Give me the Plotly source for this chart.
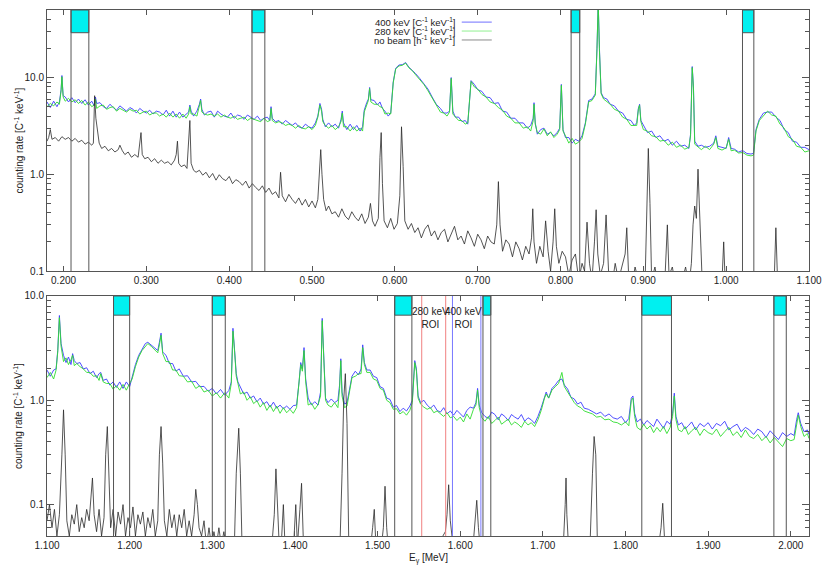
# plot.py
# gamma spectra, 280/400 keV beam vs. no beam, two energy panels

import numpy as np
import plotly.graph_objects as go

# ---- upper panel (0.18 - 1.10 MeV), beam spectra, energies in keV
top_energy = [
    180, 184, 188, 192, 195, 197, 198, 199.5, 202, 206,
    210, 214, 218, 222, 226, 230, 234, 237, 238.5, 240,
    244, 248, 252, 256, 260, 264, 268, 272, 276, 280,
    284, 288, 292, 296, 300, 304, 308, 312, 316, 320,
    324, 328, 332, 336, 340, 344, 348, 351, 352.5, 354,
    357, 361, 364, 365.5, 367, 370, 374, 378, 382, 386,
    390, 394, 398, 402, 406, 410, 414, 418, 422, 426,
    430, 434, 438, 442, 446, 449, 450.5, 452, 456, 460,
    464, 468, 472, 476, 480, 484, 488, 492, 496, 500,
    504, 507, 509.5, 511.5, 513, 516, 520, 524, 528, 532,
    535, 536.5, 538, 542, 546, 550, 554, 558, 561, 563,
    566, 568, 569.5, 571, 575, 579, 582, 585, 588, 592,
    595, 598, 601, 605, 609, 613, 617, 621, 625, 630,
    635, 640, 645, 650, 655, 659, 663, 666, 668, 670,
    673, 677, 681, 685, 688, 690, 692, 696, 700, 705,
    710, 715, 720, 725, 730, 735, 740, 745, 750, 755,
    760, 764, 767, 768, 769.5, 772, 776, 780, 784, 788,
    792, 796, 799, 801, 803, 806, 810, 814, 818, 822,
    826, 830, 834, 838, 842, 844, 845.5, 847, 849, 852,
    856, 860, 865, 870, 875, 880, 885, 889, 892, 894,
    895.5, 897, 900, 905, 910, 915, 920, 925, 930, 935,
    940, 945, 950, 955, 957, 959, 960.5, 962, 966, 970,
    975, 980, 985, 987.5, 990, 995, 1000, 1003, 1006, 1010,
    1015, 1020, 1025, 1030, 1033, 1036, 1040, 1045, 1050, 1055,
    1060, 1065, 1070, 1075, 1080, 1085, 1090, 1095, 1100,
]
top_400 = [
    5.6, 4.9, 5.7, 5.0, 5.6, 7.5, 10.5, 6.5, 6.3, 5.6,
    6.2, 5.5, 6.0, 5.4, 5.9, 5.2, 5.7, 5.1, 6.3, 5.4,
    5.5, 5.0, 4.8, 5.3, 4.9, 4.6, 5.1, 4.8, 4.5, 4.9,
    4.7, 4.3, 4.8, 4.5, 4.3, 4.6, 4.2, 4.5, 4.4, 4.1,
    4.6, 4.0, 4.5, 3.9, 4.4, 3.9, 4.2, 4.4, 5.2, 4.5,
    4.0, 4.5, 5.3, 6.0, 4.7, 4.1, 4.4, 4.5, 3.9, 4.5,
    4.2, 4.0, 3.9, 4.3, 3.8, 4.1, 4.0, 3.7, 4.1, 3.9,
    3.7, 4.0, 3.6, 3.8, 3.9, 3.6, 5.0, 3.8, 3.5, 3.6,
    3.3, 3.6, 3.4, 3.2, 3.4, 3.1, 3.0, 3.3, 3.1, 3.0,
    3.4, 4.0, 5.4, 4.7, 3.7, 3.1, 3.4, 3.1, 3.3, 3.0,
    3.7, 4.5, 3.4, 2.9, 3.3, 2.9, 3.2, 2.8, 3.1, 4.6,
    5.5, 6.0, 7.9, 5.9, 5.8, 5.2, 5.6, 4.8, 4.5, 4.0,
    4.3, 9.0, 12.5, 13.5, 13.6, 14.3, 12.8, 12.0, 11.0, 9.8,
    8.7, 7.6, 6.3, 5.3, 4.8, 4.3, 4.3, 4.5, 10.0, 4.5,
    3.9, 3.9, 3.5, 3.6, 3.3, 5.5, 9.3, 8.5, 7.5, 7.2,
    6.3, 6.2, 5.4, 5.5, 4.5, 4.4, 3.8, 3.8, 3.4, 3.4,
    3.0, 3.2, 3.8, 5.5, 3.4, 2.6, 2.9, 3.0, 2.6, 2.7,
    2.5, 2.7, 3.0, 8.5, 2.9, 2.4, 2.4, 2.1, 2.3, 2.2,
    2.5, 3.4, 5.8, 6.0, 6.8, 20.0, 60.0, 20.0, 7.0, 6.2,
    6.0, 5.3, 5.1, 4.5, 4.3, 3.7, 3.6, 3.2, 3.4, 4.8,
    5.3, 3.6, 3.2, 2.7, 2.8, 2.4, 2.5, 2.2, 2.3, 2.0,
    2.2, 1.95, 2.0, 1.85, 2.6, 13.0, 8.0, 2.2, 1.95, 2.0,
    1.9, 1.95, 2.1, 2.5, 1.95, 1.9, 1.85, 2.4, 1.85, 1.82,
    1.7, 1.76, 1.64, 1.62, 1.65, 2.9, 3.7, 4.3, 4.4, 4.4,
    3.9, 3.6, 2.9, 2.7, 2.2, 2.15, 1.9, 1.9, 1.8,
]
top_280 = [
    5.0, 5.4, 5.1, 5.6, 5.3, 7.3, 10.2, 6.3, 5.7, 6.1,
    5.6, 5.9, 5.4, 5.8, 5.2, 5.6, 5.0, 5.2, 6.0, 4.8,
    5.1, 5.2, 4.7, 4.9, 5.0, 4.5, 4.8, 4.6, 4.4, 4.7,
    4.5, 4.6, 4.2, 4.4, 4.5, 4.1, 4.3, 4.3, 4.0, 4.2,
    3.9, 4.3, 3.9, 4.2, 3.8, 4.2, 3.8, 4.2, 5.0, 4.2,
    4.2, 4.0, 5.1, 5.8, 4.4, 4.2, 4.1, 4.2, 4.0, 4.2,
    3.9, 4.1, 3.9, 3.8, 4.0, 3.7, 3.8, 3.9, 3.6, 3.8,
    3.7, 3.6, 3.5, 3.8, 3.5, 3.6, 4.8, 3.6, 3.4, 3.5,
    3.4, 3.2, 3.3, 3.2, 3.0, 3.2, 3.0, 2.95, 3.1, 2.9,
    3.2, 3.9, 5.2, 4.5, 3.5, 3.2, 3.0, 3.2, 2.9, 3.1,
    3.5, 4.3, 3.1, 3.1, 2.8, 3.1, 2.8, 3.0, 2.8, 4.4,
    5.3, 5.8, 7.7, 5.6, 5.3, 5.3, 5.0, 4.9, 4.2, 4.3,
    4.2, 8.8, 12.3, 13.2, 13.4, 14.1, 12.6, 11.8, 10.7, 9.5,
    8.5, 7.3, 6.1, 5.1, 4.4, 4.3, 4.0, 4.4, 9.8, 4.2,
    3.9, 3.6, 3.6, 3.3, 3.4, 5.3, 9.1, 8.0, 7.6, 6.7,
    6.3, 5.6, 5.4, 4.9, 4.6, 4.0, 3.8, 3.4, 3.4, 3.0,
    3.1, 2.8, 3.6, 5.3, 3.3, 2.7, 2.6, 2.95, 2.5, 2.75,
    2.4, 2.6, 2.9, 8.3, 2.8, 2.5, 2.1, 2.35, 2.05, 2.15,
    2.35, 3.3, 5.6, 5.8, 6.6, 19.5, 60.0, 19.0, 6.8, 6.0,
    5.6, 5.3, 4.7, 4.5, 3.9, 3.7, 3.2, 3.2, 3.2, 4.7,
    5.2, 3.5, 2.9, 2.8, 2.5, 2.45, 2.2, 2.25, 2.0, 2.15,
    1.9, 2.0, 1.82, 1.9, 2.5, 12.7, 7.8, 2.05, 1.92, 1.8,
    1.95, 1.8, 2.05, 2.4, 1.85, 1.78, 1.88, 2.3, 1.75, 1.78,
    1.66, 1.68, 1.58, 1.55, 1.58, 2.8, 3.6, 4.0, 4.5, 4.1,
    4.0, 3.3, 3.0, 2.45, 2.3, 1.95, 1.9, 1.7, 1.75,
]

# ---- upper panel, no beam
top_bg_energy = [
    180, 182, 184, 186, 190, 194, 198, 202, 206, 210,
    214, 218, 222, 226, 230, 234, 236, 237.5, 239, 241,
    243, 246, 250, 254, 258, 262, 266, 268, 271, 274,
    278, 282, 286, 290, 292, 293.5, 295, 298, 302, 306,
    310, 314, 318, 322, 326, 330, 334, 336, 337.5, 339,
    342, 346, 349, 351, 352.5, 354, 357, 360, 364, 368,
    372, 376, 380, 384, 388, 392, 396, 400, 404, 408,
    412, 416, 420, 424, 428, 432, 436, 440, 444, 448,
    452, 456, 460, 462, 464, 468, 472, 476, 480, 484,
    488, 492, 496, 500, 504, 507, 509, 510.5, 512, 514,
    517, 520, 524, 528, 532, 536, 540, 544, 548, 552,
    556, 560, 564, 568, 570.5, 573, 576, 580, 582, 583.5,
    585, 587, 591, 595, 599, 603, 606, 608, 610, 612,
    616, 620, 624, 628, 632, 636, 640, 644, 648, 652,
    656, 660, 664, 668, 672, 676, 680, 684, 688, 692,
    696, 700, 704, 708, 712, 716, 720, 723, 725, 727,
    730, 734, 738, 742, 746, 750, 754, 758, 762, 765,
    766.5, 768, 771, 775, 779, 782, 785, 788, 791, 793,
    795, 798, 802, 806, 810, 814, 818, 822, 826, 829,
    832, 835, 838, 841, 843, 845, 848, 852, 855, 858,
    862, 866, 870, 874, 878, 880, 882, 886, 890, 894,
    898, 902, 904.5, 906, 908, 910, 914, 918, 922, 926,
    929, 931, 935, 939, 943, 947, 951, 955, 958, 960,
    962, 964, 966, 968, 971, 975, 979, 983, 987, 991,
    995, 997, 999, 1003, 1007, 1011, 1015, 1019, 1023, 1027,
    1031, 1035, 1039, 1043, 1047, 1051, 1055, 1058, 1060, 1062,
    1066, 1070, 1074, 1078, 1082, 1086, 1090, 1094, 1098, 1100,
]
top_bg = [
    2.2, 2.4, 2.9, 2.3, 2.4, 2.2, 2.45, 2.3, 2.4, 2.2,
    2.35, 2.15, 2.25, 2.05, 2.15, 2.0, 2.1, 6.5, 3.8, 2.6,
    2.1, 1.85, 1.95, 1.75, 1.85, 1.7, 1.8, 2.0, 1.75, 1.6,
    1.7, 1.5, 1.6, 1.5, 2.0, 2.7, 1.6, 1.45, 1.5, 1.35,
    1.45, 1.3, 1.4, 1.3, 1.35, 1.25, 1.4, 1.6, 2.2, 1.3,
    1.2, 1.25, 1.15, 2.0, 3.6, 1.3, 1.1, 1.05, 1.1, 0.98,
    1.05, 0.92, 1.02, 0.87, 0.99, 0.9, 0.86, 0.95, 0.8, 0.88,
    0.84, 0.77, 0.85, 0.72, 0.8, 0.73, 0.68, 0.76, 0.65, 0.72,
    0.62, 0.66, 0.57, 1.05, 0.6, 0.52, 0.62, 0.55, 0.5, 0.57,
    0.48, 0.55, 0.46, 0.53, 0.45, 0.55, 1.2, 1.8, 1.0, 0.55,
    0.42, 0.47, 0.39, 0.41, 0.36, 0.44, 0.37, 0.34, 0.41, 0.36,
    0.33, 0.39, 0.31, 0.36, 0.5, 0.33, 0.29, 0.35, 1.5, 2.7,
    0.8, 0.33, 0.28, 0.35, 0.27, 0.31, 0.6, 3.1, 1.2, 0.33,
    0.27, 0.31, 0.25, 0.28, 0.22, 0.27, 0.3, 0.23, 0.26, 0.21,
    0.25, 0.27, 0.2, 0.24, 0.29, 0.21, 0.23, 0.19, 0.26, 0.22,
    0.18, 0.24, 0.21, 0.17, 0.23, 0.2, 0.19, 0.3, 0.84, 0.3,
    0.16, 0.21, 0.19, 0.14, 0.2, 0.17, 0.13, 0.18, 0.15, 0.22,
    0.44, 0.2, 0.12, 0.18, 0.14, 0.33, 0.16, 0.1, 0.2, 0.44,
    0.18, 0.12, 0.16, 0.14, 0.09, 0.13, 0.15, 0.08, 0.12, 0.1,
    0.32, 0.12, 0.08, 0.2, 0.43, 0.15, 0.09, 0.12, 0.38, 0.1,
    0.07, 0.12, 0.08, 0.11, 0.15, 0.28, 0.1, 0.07, 0.11, 0.08,
    0.1, 0.07, 0.8, 1.85, 0.5, 0.08, 0.11, 0.07, 0.1, 0.08,
    0.3, 0.09, 0.11, 0.07, 0.1, 0.08, 0.11, 0.07, 0.12, 0.3,
    0.47, 0.35, 1.13, 0.3, 0.08, 0.1, 0.07, 0.09, 0.06, 0.09,
    0.08, 0.2, 0.07, 0.09, 0.06, 0.08, 0.06, 0.09, 0.05, 0.08,
    0.06, 0.09, 0.05, 0.08, 0.06, 0.09, 0.05, 0.08, 0.28, 0.08,
    0.05, 0.08, 0.06, 0.09, 0.05, 0.08, 0.06, 0.1, 0.05, 0.07,
]

# ---- lower panel (1.10 - 2.02 MeV), beam spectra
bot_energy = [
    1100, 1104, 1108, 1111, 1113, 1115, 1117, 1120, 1123, 1126,
    1129, 1131, 1133, 1136, 1140, 1144, 1148, 1152, 1156, 1160,
    1163, 1165, 1168, 1172, 1176, 1180, 1184, 1188, 1192, 1196,
    1200, 1203, 1207, 1211, 1215, 1219, 1222, 1226, 1230, 1234,
    1236, 1238, 1240, 1244, 1248, 1252, 1256, 1260, 1265, 1270,
    1275, 1280, 1285, 1290, 1295, 1300, 1305, 1310, 1315, 1320,
    1323, 1325, 1327, 1329, 1331, 1334, 1338, 1342, 1346, 1350,
    1354, 1358, 1362, 1366, 1370, 1374, 1378, 1382, 1386, 1390,
    1394, 1398, 1402, 1405, 1407, 1409, 1411, 1413, 1416, 1420,
    1424, 1428, 1431, 1433, 1435, 1437, 1440, 1444, 1448, 1452,
    1454, 1455.5, 1457, 1460, 1463, 1466, 1469, 1473, 1477, 1480,
    1482, 1484, 1487, 1491, 1495, 1499, 1503, 1507, 1511, 1515,
    1519, 1523, 1527, 1531, 1535, 1539, 1542, 1545, 1547, 1549,
    1552, 1556, 1560, 1564, 1568, 1572, 1576, 1580, 1584, 1588,
    1592, 1596, 1600, 1604, 1608, 1612, 1616, 1619, 1621, 1623,
    1626, 1630, 1634, 1638, 1642, 1646, 1650, 1654, 1658, 1662,
    1666, 1670, 1674, 1678, 1682, 1686, 1690, 1694, 1698, 1702,
    1704, 1707, 1711, 1715, 1719, 1723, 1726, 1730, 1734, 1738,
    1742, 1746, 1750, 1755, 1760, 1765, 1770, 1775, 1780, 1785,
    1790, 1795, 1800, 1804, 1807, 1809, 1811, 1814, 1818, 1822,
    1826, 1830, 1834, 1838, 1842, 1846, 1850, 1854, 1857, 1859,
    1861, 1864, 1868, 1872, 1876, 1880, 1885, 1890, 1895, 1900,
    1905, 1910, 1915, 1920, 1925, 1930, 1935, 1940, 1945, 1950,
    1955, 1960, 1965, 1970, 1975, 1980, 1985, 1990, 1995, 2000,
    2004, 2007, 2009, 2012, 2016, 2020, 2022,
]
bot_400 = [
    1.95, 1.7, 1.95, 2.0, 3.0, 6.5, 3.5, 2.7, 2.3, 2.6,
    2.2, 2.8, 2.4, 2.25, 2.3, 2.0, 2.05, 1.8, 1.9, 1.65,
    1.8, 1.85, 1.55, 1.6, 1.4, 1.5, 1.33, 1.5, 1.3, 1.5,
    1.35, 1.7, 2.2, 2.7, 3.1, 3.5, 3.6, 3.4, 3.2, 3.0,
    3.6, 4.4, 2.9, 2.7, 2.25, 2.25, 1.9, 2.0, 1.7, 1.72,
    1.5, 1.52, 1.35, 1.36, 1.22, 1.3, 1.15, 1.27, 1.12, 1.24,
    1.5, 4.9, 3.0, 1.8, 1.5, 1.35, 1.15, 1.2, 1.05, 1.1,
    0.97, 1.05, 0.92, 0.97, 0.86, 0.96, 0.84, 0.9, 0.83, 0.88,
    0.82, 0.89, 0.9, 1.5, 2.3, 2.0, 3.2, 1.6, 1.05, 0.9,
    0.97, 0.9, 1.2, 6.1, 2.0, 1.05, 0.95, 1.03, 0.95, 1.0,
    1.4, 2.5, 1.2, 0.92, 0.95, 1.3, 1.7, 1.9, 1.75, 2.0,
    3.4, 2.3, 1.95, 1.95, 1.7, 1.65, 1.35, 1.3, 1.05, 1.02,
    0.86, 0.89, 0.78, 0.84, 0.79, 0.88, 1.0, 2.4, 2.0, 1.1,
    0.95, 1.0, 0.9, 0.84, 0.9, 0.8, 0.77, 0.85, 0.74, 0.79,
    0.72, 0.8, 0.74, 0.69, 0.8, 0.86, 0.84, 0.95, 1.3, 0.9,
    0.76, 0.7, 0.67, 0.77, 0.73, 0.65, 0.74, 0.7, 0.64, 0.73,
    0.69, 0.66, 0.73, 0.63, 0.68, 0.65, 0.6, 0.7, 0.85, 1.1,
    1.2, 1.05, 1.3, 1.4, 1.55, 1.6, 1.4, 1.28, 1.07, 1.03,
    0.92, 0.96, 0.84, 0.82, 0.78, 0.74, 0.77, 0.7, 0.74, 0.68,
    0.66, 0.7, 0.61, 0.67, 1.05, 1.1, 0.75, 0.62, 0.66, 0.58,
    0.64, 0.6, 0.56, 0.66, 0.6, 0.54, 0.63, 0.59, 0.75, 1.17,
    0.7, 0.58, 0.61, 0.53, 0.57, 0.62, 0.52, 0.6, 0.56, 0.61,
    0.53, 0.6, 0.57, 0.63, 0.52, 0.56, 0.59, 0.5, 0.55, 0.52,
    0.47, 0.53, 0.5, 0.44, 0.51, 0.46, 0.42, 0.49, 0.45, 0.48,
    0.46, 0.65, 0.76, 0.6, 0.5, 0.52, 0.47,
]
bot_280 = [
    1.65, 1.85, 1.6, 1.95, 2.9, 6.2, 3.3, 2.35, 2.55, 2.2,
    2.45, 2.7, 2.15, 2.25, 2.1, 2.0, 1.85, 1.85, 1.7, 1.72,
    1.55, 1.8, 1.5, 1.45, 1.45, 1.28, 1.38, 1.25, 1.42, 1.25,
    1.45, 1.6, 2.1, 2.6, 3.0, 3.3, 3.5, 3.3, 3.1, 2.85,
    3.4, 4.2, 2.8, 2.35, 2.35, 1.95, 1.95, 1.72, 1.7, 1.5,
    1.52, 1.3, 1.38, 1.2, 1.25, 1.1, 1.18, 1.05, 1.18, 1.05,
    1.45, 4.6, 2.9, 1.7, 1.45, 1.15, 1.2, 1.0, 1.08, 0.93,
    0.99, 0.86, 0.95, 0.8, 0.9, 0.78, 0.88, 0.75, 0.85, 0.76,
    0.82, 0.75, 0.85, 1.4, 2.2, 1.9, 3.0, 1.5, 0.9, 0.94,
    0.82, 0.91, 1.1, 5.8, 1.9, 1.0, 0.9, 0.86, 0.95, 0.85,
    1.3, 2.4, 1.1, 0.85, 0.88, 1.25, 1.65, 1.7, 1.8, 1.8,
    3.2, 2.2, 1.85, 1.85, 1.6, 1.55, 1.3, 1.25, 1.0, 0.95,
    0.82, 0.83, 0.74, 0.78, 0.72, 0.8, 0.95, 2.3, 1.9, 1.05,
    0.92, 0.86, 0.82, 0.85, 0.76, 0.79, 0.74, 0.7, 0.76, 0.68,
    0.7, 0.64, 0.69, 0.62, 0.74, 0.66, 0.82, 0.9, 1.25, 0.85,
    0.68, 0.63, 0.7, 0.6, 0.64, 0.69, 0.59, 0.63, 0.66, 0.58,
    0.62, 0.59, 0.55, 0.63, 0.58, 0.61, 0.56, 0.65, 0.8, 1.05,
    1.15, 1.05, 1.25, 1.35, 1.45, 1.85, 1.35, 1.2, 1.05, 0.95,
    0.88, 0.85, 0.79, 0.76, 0.74, 0.69, 0.7, 0.65, 0.66, 0.62,
    0.61, 0.58, 0.62, 0.57, 1.0, 1.05, 0.7, 0.55, 0.52, 0.59,
    0.53, 0.57, 0.49, 0.55, 0.5, 0.56, 0.48, 0.55, 0.7, 1.1,
    0.65, 0.52, 0.5, 0.56, 0.47, 0.51, 0.55, 0.46, 0.53, 0.49,
    0.47, 0.53, 0.45, 0.5, 0.55, 0.46, 0.5, 0.44, 0.52, 0.45,
    0.43, 0.47, 0.41, 0.45, 0.39, 0.44, 0.4, 0.36, 0.43, 0.41,
    0.42, 0.6, 0.72, 0.56, 0.45, 0.48, 0.43,
]

# ---- lower panel, no beam
bot_bg_energy = [
    1100, 1103, 1106, 1109, 1112, 1115, 1118, 1120, 1122, 1124,
    1127, 1130, 1133, 1136, 1139, 1142, 1145, 1148, 1151, 1153,
    1155, 1157, 1160, 1163, 1166, 1169, 1171, 1173, 1175, 1177,
    1180, 1183, 1186, 1189, 1192, 1195, 1198, 1201, 1204, 1207,
    1210, 1213, 1216, 1219, 1222, 1225, 1228, 1231, 1234, 1236,
    1238, 1240, 1242, 1245, 1248, 1251, 1254, 1257, 1260, 1263,
    1266, 1269, 1272, 1275, 1278, 1280, 1282, 1284, 1287, 1290,
    1293, 1296, 1299, 1302, 1305, 1308, 1311, 1314, 1317, 1320,
    1323, 1327, 1329, 1332, 1334, 1336, 1340, 1344, 1348, 1352,
    1356, 1360, 1364, 1368, 1372, 1375, 1377, 1379, 1381, 1384,
    1386, 1388, 1392, 1396, 1399, 1401, 1403, 1406, 1408, 1410,
    1414, 1418, 1422, 1426, 1430, 1434, 1438, 1442, 1446, 1450,
    1454, 1457, 1459, 1461, 1463, 1465, 1470, 1475, 1480, 1485,
    1490, 1494, 1496, 1498, 1503, 1507, 1509, 1511, 1514, 1520,
    1525, 1530, 1535, 1540, 1545, 1550, 1555, 1560, 1565, 1570,
    1575, 1579, 1582, 1584, 1586, 1588, 1590, 1593, 1597, 1602,
    1607, 1612, 1616, 1618, 1620, 1622, 1624, 1628, 1633, 1640,
    1650, 1660, 1670, 1680, 1690, 1700, 1710, 1720, 1725, 1727,
    1728, 1729, 1731, 1740, 1750, 1757, 1760, 1762, 1764, 1766,
    1770, 1780, 1790, 1800, 1810, 1820, 1830, 1840, 1843, 1845,
    1847, 1850, 1870, 1900, 1930, 1960, 1990, 2022,
]
bot_bg = [
    0.07, 0.1, 0.06, 0.09, 0.05, 0.08, 0.3, 0.81, 0.3, 0.07,
    0.05, 0.08, 0.065, 0.1, 0.055, 0.075, 0.06, 0.09, 0.07, 0.12,
    0.18, 0.08, 0.055, 0.09, 0.05, 0.075, 0.3, 0.56, 0.2, 0.06,
    0.09, 0.05, 0.085, 0.065, 0.1, 0.05, 0.075, 0.06, 0.095, 0.05,
    0.08, 0.065, 0.085, 0.05, 0.075, 0.06, 0.09, 0.05, 0.07, 0.3,
    0.56, 0.25, 0.07, 0.05, 0.09, 0.06, 0.08, 0.05, 0.08, 0.06,
    0.09, 0.05, 0.07, 0.05, 0.08, 0.14, 0.1, 0.06, 0.05, 0.07,
    0.04, 0.06, 0.04, 0.055, 0.04, 0.06, 0.04, 0.055, 0.04, 0.05,
    0.035, 0.05, 0.2, 0.54, 0.2, 0.04, 0.05, 0.03, 0.05, 0.03,
    0.045, 0.03, 0.045, 0.03, 0.04, 0.08, 0.22, 0.1, 0.04, 0.05,
    0.1, 0.04, 0.03, 0.045, 0.05, 0.1, 0.04, 0.09, 0.16, 0.05,
    0.03, 0.04, 0.03, 0.04, 0.03, 0.045, 0.03, 0.04, 0.03, 0.04,
    0.03, 0.2, 1.0, 1.8, 0.6, 0.05, 0.03, 0.04, 0.03, 0.04,
    0.03, 0.06, 0.09, 0.04, 0.03, 0.06, 0.15, 0.06, 0.03, 0.04,
    0.03, 0.04, 0.03, 0.04, 0.03, 0.04, 0.03, 0.04, 0.03, 0.04,
    0.045, 0.05, 0.055, 0.08, 0.155, 0.07, 0.05, 0.045, 0.03, 0.04,
    0.03, 0.04, 0.045, 0.08, 0.11, 0.06, 0.04, 0.03, 0.04, 0.03,
    0.04, 0.035, 0.03, 0.04, 0.03, 0.035, 0.03, 0.04, 0.045, 0.1,
    0.18, 0.08, 0.04, 0.03, 0.035, 0.04, 0.2, 0.45, 0.3, 0.04,
    0.03, 0.035, 0.03, 0.035, 0.03, 0.035, 0.03, 0.04, 0.06, 0.103,
    0.05, 0.03, 0.035, 0.03, 0.035, 0.03, 0.035, 0.03,
]

# background-subtraction windows [MeV] and regions of interest
top_windows = [(0.2090, 0.2305), (0.4275, 0.4430), (0.8128, 0.8232), (1.0197, 1.0334)]
bot_windows = [(1.1805, 1.2000), (1.3000, 1.3157), (1.5207, 1.5415), (1.6275, 1.6370),
               (1.8197, 1.8556), (1.9795, 1.9945)]
roi_280 = (1.5534, 1.5824)
roi_400 = (1.5906, 1.6250)

BLUE = "#3b3bff"
GREEN = "#2fdc2f"
BLACK = "#2a2a2a"
AXIS = "#555555"
FONT = "Liberation Sans, Arial, sans-serif"


def mev(kev):
    return np.asarray(kev, dtype=float) / 1000.0


fig = go.Figure()

panels = [
    ("x", "y", top_energy, top_400, top_280, top_bg_energy, top_bg),
    ("x2", "y2", bot_energy, bot_400, bot_280, bot_bg_energy, bot_bg),
]
for xa, ya, e, s400, s280, e_bg, s_bg in panels:
    fig.add_trace(go.Scatter(x=mev(e), y=s400, mode="lines", xaxis=xa, yaxis=ya,
                             line=dict(color=BLUE, width=0.9), showlegend=False))
    fig.add_trace(go.Scatter(x=mev(e), y=s280, mode="lines", xaxis=xa, yaxis=ya,
                             line=dict(color=GREEN, width=0.9), showlegend=False))
    fig.add_trace(go.Scatter(x=mev(e_bg), y=s_bg, mode="lines", xaxis=xa, yaxis=ya,
                             line=dict(color=BLACK, width=0.8), showlegend=False))

shapes = []


def add_windows(windows, xref, yref, box_bottom):
    for lo, hi in windows:
        shapes.append(dict(type="rect", xref=xref, yref=yref + " domain", x0=lo, x1=hi,
                           y0=box_bottom, y1=1, fillcolor="#00f0f0",
                           line=dict(color=AXIS, width=1), layer="above"))
        for xv in (lo, hi):
            shapes.append(dict(type="line", xref=xref, yref=yref + " domain", x0=xv, x1=xv,
                               y0=0, y1=1, line=dict(color=AXIS, width=1)))


add_windows(top_windows, "x", "y", 0.913)
add_windows(bot_windows, "x2", "y2", 0.92)

for xv in roi_280:
    shapes.append(dict(type="line", xref="x2", yref="y2 domain", x0=xv, x1=xv, y0=0, y1=1,
                       line=dict(color="#f08080", width=1)))
for xv in roi_400:
    shapes.append(dict(type="line", xref="x2", yref="y2 domain", x0=xv, x1=xv, y0=0, y1=1,
                       line=dict(color="#7878ff", width=1)))

# legend drawn by hand: text right-aligned, line sample to the right
legend_rows = [
    ("400 keV [C<sup>-1</sup> keV<sup>-1</sup>]", "#6f6fff", 0.977),
    ("280 keV [C<sup>-1</sup> keV<sup>-1</sup>]", "#90f090", 0.960),
    ("no beam [h<sup>-1</sup> keV<sup>-1</sup>]", "#8a8a8a", 0.943),
]
annotations = []
for label, col, yy in legend_rows:
    annotations.append(dict(text=label, xref="paper", yref="paper", x=0.5377, y=yy,
                            xanchor="right", yanchor="middle", showarrow=False,
                            font=dict(size=9.5, color="#222")))
    shapes.append(dict(type="line", xref="paper", yref="paper", x0=0.5443, x1=0.5837,
                       y0=yy, y1=yy, line=dict(color=col, width=1)))

ytitle = "counting rate [C<sup>-1</sup> keV<sup>-1</sup>]"
for ya in ("y", "y2"):
    annotations.append(dict(text=ytitle, xref="paper", yref=ya + " domain", x=-0.038, y=0.5,
                            textangle=-90, showarrow=False, xanchor="center", yanchor="middle",
                            font=dict(size=10, color="#222")))
annotations.append(dict(text="E<sub>γ</sub> [MeV]", xref="x2 domain", yref="y2 domain",
                        x=0.5, y=-0.092, showarrow=False, yanchor="middle",
                        font=dict(size=10, color="#222")))
annotations.append(dict(text="280 keV<br>ROI", xref="x2", yref="y2 domain", x=1.5637, y=0.968,
                        showarrow=False, yanchor="top", font=dict(size=10, color="#222")))
annotations.append(dict(text="400 keV<br>ROI", xref="x2", yref="y2 domain", x=1.6045, y=0.968,
                        showarrow=False, yanchor="top", font=dict(size=10, color="#222")))

xcommon = dict(dtick=0.1, tick0=0, tickformat=".3f", ticks="inside", ticklen=5,
               tickcolor=AXIS, mirror="allticks", showline=True, linecolor=AXIS,
               linewidth=1, showgrid=False, zeroline=False, automargin=False)
ycommon = dict(type="log", ticks="inside", ticklen=7, tickcolor=AXIS, mirror="allticks",
               showline=True, linecolor=AXIS, linewidth=1, showgrid=False, zeroline=False,
               tickmode="array", tickvals=[0.1, 1, 10], ticktext=["0.1", "1.0", "10.0"],
               automargin=False)

minor_top = [0.2, 0.3, 0.4, 0.5, 0.6, 0.7, 0.8, 0.9, 2, 3, 4, 5, 6, 7, 8, 9, 20, 30, 40, 50]
minor_bot = [0.06, 0.07, 0.08, 0.09, 0.2, 0.3, 0.4, 0.5, 0.6, 0.7, 0.8, 0.9,
             2, 3, 4, 5, 6, 7, 8, 9]

# the page puts the figure 8 px in from the top-left corner, so the margins
# are shifted by that amount to land the plot areas where the reference has them
fig.update_layout(
    width=830, height=581,
    margin=dict(l=39, r=29, t=2, b=53),
    paper_bgcolor="white", plot_bgcolor="white",
    font=dict(family=FONT, size=10, color="#222"),
    showlegend=False,
    xaxis=dict(domain=[0, 1], anchor="y", range=[0.18, 1.1], **xcommon),
    yaxis=dict(domain=[0.5038, 1.0], anchor="x", range=[-1, np.log10(50)],
               minor=dict(tickmode="array", tickvals=minor_top, ticks="inside",
                          ticklen=4, tickcolor=AXIS, showgrid=False), **ycommon),
    xaxis2=dict(domain=[0, 1], anchor="y2", range=[1.1, 2.022], **xcommon),
    yaxis2=dict(domain=[0, 0.4563], anchor="x2", range=[np.log10(0.05), 1],
                minor=dict(tickmode="array", tickvals=minor_bot, ticks="inside",
                           ticklen=4, tickcolor=AXIS, showgrid=False), **ycommon),
    shapes=shapes,
    annotations=annotations,
)

fig.write_html("out.html")
